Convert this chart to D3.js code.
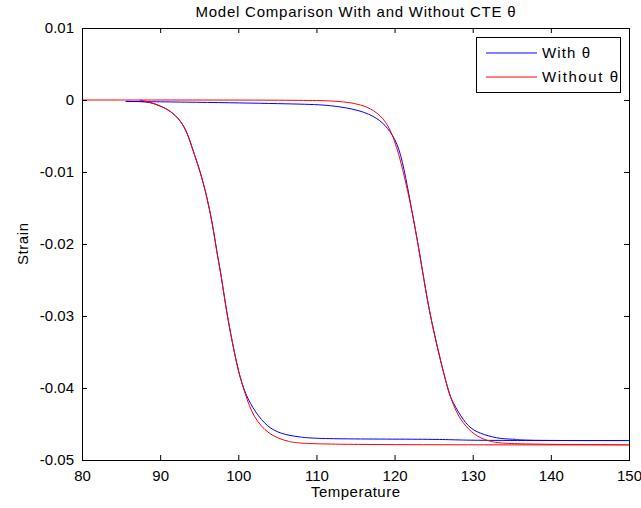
<!DOCTYPE html>
<html>
<head>
<meta charset="utf-8">
<script src="https://cdn.jsdelivr.net/npm/d3@7"></script>
<style>
  body { margin: 0; background: #fff; }
  svg { display: block; font-family: "Liberation Sans", Arial, sans-serif; }
</style>
</head>
<body>
<svg id="chart" width="641" height="508"></svg>
<script>
// axis settings
const xTicks = [80, 90, 100, 110, 120, 130, 140, 150];
const yTicks = [0.01, 0, -0.01, -0.02, -0.03, -0.04, -0.05];
const yTickLabels = ["0.01", "0", "-0.01", "-0.02", "-0.03", "-0.04", "-0.05"];

// "With θ" path (temperature, strain), in drawing order
// (the turn at 150 is listed three times so the smoothed line reaches it)
const tempWith = [85.6, 97.8, 108.0, 111.8, 115.6, 117.8, 119.1, 120.4, 121.2, 122.05, 122.7, 123.3, 124.2,
  125.0, 125.9, 126.8, 127.2, 128.5, 129.7, 131.4, 133.6, 135.8, 136.2, 150,
  150, 150, 127.7, 127.7, 110.3, 107.7, 105.5, 103.7, 102.2, 100.9, 100.0, 99.4, 98.7, 98.1, 97.7,
  97.3, 96.7, 96.0, 95.1, 94.2, 93.5, 92.6, 91.3, 90.0, 88.7, 87.4, 85.6];
const strainWith = [-0.0002, -0.00035, -0.00056, -0.0007, -0.0014, -0.0025, -0.0038, -0.0060, -0.0094, -0.0144, -0.0182, -0.0219, -0.0279,
  -0.0321, -0.0363, -0.0401, -0.0415, -0.0440, -0.0457, -0.0465, -0.0471, -0.0471, -0.0473, -0.0473,
  -0.0473, -0.0473, -0.0473, -0.0471, -0.0471, -0.0468, -0.0464, -0.0454, -0.0434, -0.0409, -0.0377, -0.0345, -0.0307, -0.0265, -0.0237,
  -0.0214, -0.0172, -0.0135, -0.0098, -0.0070, -0.0046, -0.0028, -0.0015, -0.0008, -0.0003, -0.0002, -0.0002];

// "Without θ" path
const tempWithout = [80, 108.0, 113.1, 115.3, 116.9, 118.6, 119.7, 120.8, 122.05, 122.7, 123.3, 124.2, 125.0,
  125.9, 126.8, 127.8, 129.1, 130.6, 132.3, 134.6, 150,
  150, 150, 109.0, 106.4, 103.85, 101.9, 100.9, 100.0, 99.4, 98.7, 98.1, 97.7, 97.3, 96.7, 96.0,
  95.1, 94.2, 93.5, 92.6, 91.3, 90.0, 88.7, 87.4];
const strainWithout = [0, 0, -0.00014, -0.00056, -0.0011, -0.0025, -0.0046, -0.0084, -0.0144, -0.0182, -0.0219, -0.0279, -0.0321,
  -0.0363, -0.0401, -0.0433, -0.0454, -0.0468, -0.0475, -0.0478, -0.0479,
  -0.0479, -0.0479, -0.0479, -0.0475, -0.0465, -0.0440, -0.0409, -0.0377, -0.0345, -0.0307, -0.0265, -0.0237, -0.0214, -0.0172, -0.0135,
  -0.0098, -0.0070, -0.0046, -0.0028, -0.0015, -0.0008, -0.0003, 0];

const seriesNames = ["With \u03b8", "Without \u03b8"];
const seriesColors = ["#0000ff", "#ff0000"];
const legendTextWidths = [48, 76];

const series = [
  { name: seriesNames[0], color: seriesColors[0], values: tempWith.map((t, i) => ({ t: t, s: strainWith[i] })) },
  { name: seriesNames[1], color: seriesColors[1], values: tempWithout.map((t, i) => ({ t: t, s: strainWithout[i] })) }
];

const margin = { top: 28, right: 12, bottom: 48, left: 82 };
const width = 641 - margin.left - margin.right;
const height = 508 - margin.top - margin.bottom;

const svg = d3.select("#chart");
const g = svg.append("g").attr("transform", `translate(${margin.left},${margin.top})`);

const x = d3.scaleLinear().domain([80, 150]).range([0, width]);
const y = d3.scaleLinear().domain([-0.05, 0.01]).range([height, 0]);

g.append("clipPath").attr("id", "plot-clip")
  .append("rect").attr("width", width).attr("height", height);

// lines, smoothed (basis stays inside the points' hull, so no overshoot on the flat parts)
const line = d3.line().x(d => x(d.t)).y(d => y(d.s)).curve(d3.curveBasis);
g.append("g").attr("clip-path", "url(#plot-clip)")
  .selectAll("path.series")
  .data(series)
  .join("path")
  .attr("class", "series")
  .attr("fill", "none")
  .attr("stroke", d => d.color)
  .attr("stroke-width", 1)
  .attr("d", d => line(d.values));

// axes with inward ticks (MATLAB box style)
const tickSize = 5;
const xAxis = d3.axisBottom(x).tickValues(xTicks).tickSizeInner(-tickSize).tickSizeOuter(0).tickPadding(10).tickFormat(d3.format("d"));
const yAxis = d3.axisLeft(y).tickValues(yTicks).tickSizeInner(-tickSize).tickSizeOuter(0).tickPadding(8)
  .tickFormat((d, i) => yTickLabels[i]);

const gx = g.append("g").attr("transform", `translate(0,${height})`).call(xAxis);
const gy = g.append("g").call(yAxis);
g.append("g").call(d3.axisTop(x).tickValues(xTicks).tickSizeInner(-tickSize).tickSizeOuter(0).tickFormat(""));
g.append("g").attr("transform", `translate(${width},0)`)
  .call(d3.axisRight(y).tickValues(yTicks).tickSizeInner(-tickSize).tickSizeOuter(0).tickFormat(""));

g.selectAll(".domain").remove();
g.selectAll(".tick line").attr("stroke", "#000");
g.selectAll(".tick text").attr("fill", "#000").style("font-size", "15px")
  .style("font-family", "'Liberation Sans', Arial, sans-serif");
gx.selectAll(".tick text").attr("dy", "0.71em");

g.append("rect")
  .attr("width", width).attr("height", height)
  .attr("fill", "none").attr("stroke", "#000").attr("stroke-width", 1)
  .attr("shape-rendering", "crispEdges");

// labels
svg.append("text")
  .attr("x", margin.left + width / 2).attr("y", 17)
  .attr("text-anchor", "middle").style("font-size", "15px")
  .attr("textLength", 320).attr("lengthAdjust", "spacing")
  .text("Model Comparison With and Without CTE \u03b8");

svg.append("text")
  .attr("x", margin.left + width / 2).attr("y", 497)
  .attr("text-anchor", "middle").style("font-size", "15px")
  .attr("textLength", 89).attr("lengthAdjust", "spacing")
  .text("Temperature");

svg.append("text")
  .attr("transform", `translate(28,${margin.top + height / 2}) rotate(-90)`)
  .attr("text-anchor", "middle").style("font-size", "15px")
  .attr("textLength", 42).attr("lengthAdjust", "spacing")
  .text("Strain");

// legend
const legend = svg.append("g").attr("transform", "translate(476,37)");
legend.append("rect")
  .attr("width", 144).attr("height", 55)
  .attr("fill", "#fff").attr("stroke", "#000").attr("stroke-width", 1)
  .attr("shape-rendering", "crispEdges");
const items = legend.selectAll("g.item").data(series).join("g")
  .attr("class", "item")
  .attr("transform", (d, i) => `translate(0,${16 + i * 24})`);
items.append("line")
  .attr("x1", 10).attr("x2", 61)
  .attr("stroke", d => d.color).attr("stroke-width", 1);
items.append("text")
  .attr("x", 66).attr("dy", "0.35em")
  .style("font-size", "15px")
  .attr("textLength", (d, i) => legendTextWidths[i]).attr("lengthAdjust", "spacing")
  .text(d => d.name);
</script>
</body>
</html>
